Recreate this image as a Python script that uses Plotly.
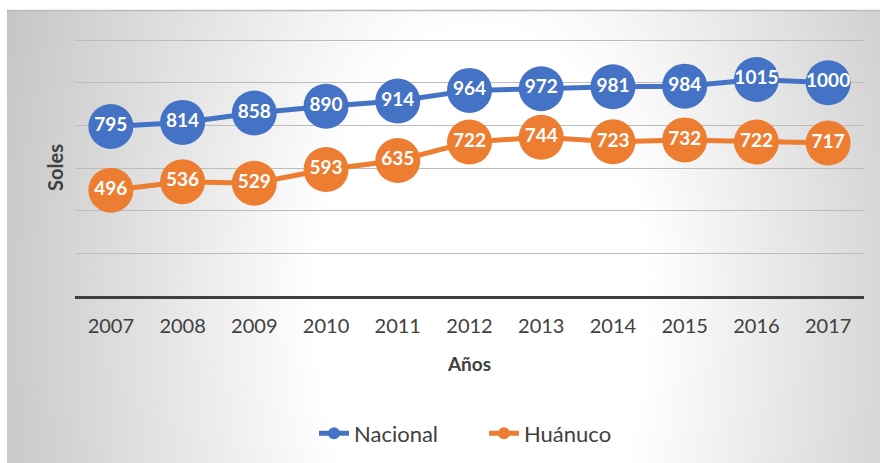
import base64
import plotly.graph_objects as go

years = ["2007", "2008", "2009", "2010", "2011", "2012", "2013", "2014", "2015", "2016", "2017"]
nacional = [795, 814, 858, 890, 914, 964, 972, 981, 984, 1015, 1000]
huanuco = [496, 536, 529, 593, 635, 722, 744, 723, 732, 722, 717]

BLUE = "#4472c4"
ORANGE = "#ed7d31"
TXT = "#404040"
FONT = "Lato"

svg = ("<svg xmlns='http://www.w3.org/2000/svg' width='873' height='452' viewBox='0 0 873 452' preserveAspectRatio='none'>"
       "<defs><radialGradient id='g' gradientUnits='userSpaceOnUse' cx='475' cy='300' r='500' "
       "gradientTransform='translate(475 300) scale(1 1.7) translate(-475 -300)'>"
       "<stop offset='0' stop-color='#ffffff'/><stop offset='0.33' stop-color='#ffffff'/>"
       "<stop offset='1' stop-color='#c6c6c6'/></radialGradient></defs>"
       "<rect width='873' height='452' fill='url(#g)'/></svg>")
bg = "data:image/svg+xml;base64," + base64.b64encode(svg.encode()).decode()

fig = go.Figure()
for name, vals, col in [("Nacional", nacional, BLUE), ("Huánuco", huanuco, ORANGE)]:
    fig.add_trace(go.Scatter(
        x=years, y=vals, name=name, mode="lines+markers+text",
        line=dict(color=col, width=5),
        marker=dict(color=col, size=45),
        text=[str(v) for v in vals], textposition="middle center",
        textfont=dict(family=FONT, size=19, color="white", weight="bold"),
        cliponaxis=False,
    ))

L, R, T, B = 75, 864, 40, 296
W, H = 880, 463
pw, ph = R - L, B - T

fig.add_layout_image(dict(
    source=bg, xref="paper", yref="paper",
    x=(7 - L) / pw, y=(B - 11) / ph, sizex=(880 - 7) / pw, sizey=(463 - 11) / ph,
    xanchor="left", yanchor="top", sizing="stretch", layer="below",
))
fig.add_shape(type="line", xref="paper", yref="paper",
              x0=(7 - L) / pw, x1=(880 - L) / pw, y0=(B - 11.5) / ph, y1=(B - 11.5) / ph,
              line=dict(color="#bdbdbd", width=1.5), layer="below")

fig.update_layout(
    width=W, height=H,
    margin=dict(l=L, r=W - R, t=T - 1, b=H - B, autoexpand=False),
    paper_bgcolor="white", plot_bgcolor="rgba(0,0,0,0)",
    font=dict(family=FONT, color=TXT),
    showlegend=True,
    legend=dict(orientation="h", x=(484 - L) / pw, xanchor="center",
                y=(B - 433) / ph, yanchor="middle",
                font=dict(family=FONT, size=22, color=TXT),
                entrywidth=125, entrywidthmode="pixels",
                itemsizing="constant", bgcolor="rgba(0,0,0,0)"),
    xaxis=dict(
        type="category", range=[-0.5, 10.5], automargin=False,
        showline=True, linecolor="#3f3f3f", linewidth=3,
        ticks="", showgrid=False, ticklabelstandoff=10,
        tickfont=dict(family=FONT, size=20, color=TXT),
        title=dict(text="Años", font=dict(family=FONT, size=19, color=TXT, weight="bold"), standoff=22),
    ),
    yaxis=dict(
        range=[0, 1205], dtick=200, showticklabels=False, ticks="", automargin=False,
        showgrid=True, gridcolor="#bcbcbc", gridwidth=1, zeroline=False,
        title=dict(text="Soles", font=dict(family=FONT, size=20, color=TXT, weight="bold"), standoff=5),
    ),
)

fig.write_html("out.html", config={"displayModeBar": False},
               post_script="document.body.style.margin='0';")
